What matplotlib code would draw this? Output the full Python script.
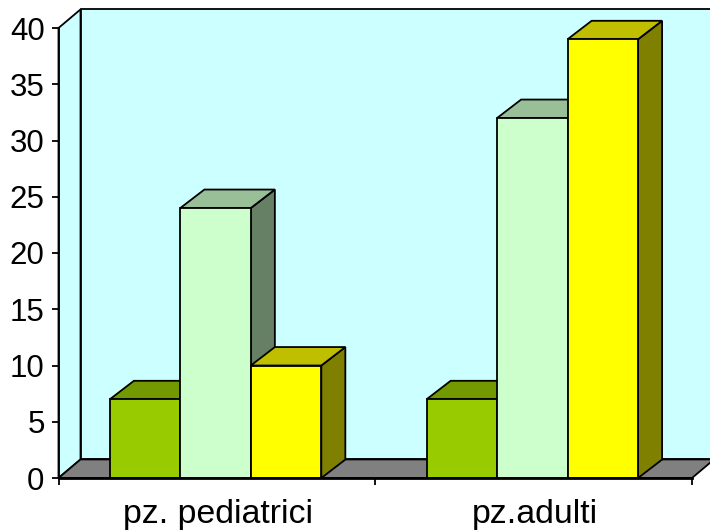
import matplotlib
matplotlib.use("Agg")
import numpy as np
import matplotlib.pyplot as plt
from matplotlib.patches import Polygon

plt.rcParams['font.family'] = ['Liberation Sans', 'DejaVu Sans']

categories = ['pz. pediatrici', 'pz.adulti']
series_a = [7, 7]
series_b = [24, 32]
series_c = [10, 39]
y_ticks = [0, 5, 10, 15, 20, 25, 30, 35, 40]

bar_width = 0.2225
wall_dx, wall_dy = 0.0695, 1.65
bar_dx, bar_dy = 0.0758, 1.64
line = 1.3

fig = plt.figure(figsize=(7.1, 5.3), dpi=100)
ax = fig.add_axes([58.5 / 710, 1 - 478 / 530, 633.5 / 710, 450 / 530])
ax.set_xlim(0, 2)
ax.set_ylim(0, 40)
ax.patch.set_visible(False)


def poly(points, color, z):
    ax.add_patch(Polygon(points, closed=True, facecolor=color, edgecolor='black',
                         linewidth=line, clip_on=False, zorder=z, joinstyle='miter'))


# walls and floor
poly([(0, 0), (wall_dx, wall_dy), (wall_dx, 40 + wall_dy), (0, 40)], '#CCFFFF', 1)
poly([(wall_dx, wall_dy), (2 + wall_dx, wall_dy), (2 + wall_dx, 40 + wall_dy), (wall_dx, 40 + wall_dy)], '#CCFFFF', 1)
poly([(0, 0), (2, 0), (2 + wall_dx, wall_dy), (wall_dx, wall_dy)], '#808080', 1.5)


def bar3d(x, h, front, top, side, z):
    r = x + bar_width
    poly([(r, 0), (r + bar_dx, bar_dy), (r + bar_dx, h + bar_dy), (r, h)], side, z)
    poly([(x, h), (r, h), (r + bar_dx, h + bar_dy), (x + bar_dx, h + bar_dy)], top, z)
    poly([(x, 0), (r, 0), (r, h), (x, h)], front, z + 0.1)


styles = [('#99CC00', '#739900', '#4D6600'),
          ('#CCFFCC', '#99BF99', '#668066'),
          ('#FFFF00', '#BFBF00', '#808000')]
centers = np.arange(len(categories)) + 0.496
for i, c in enumerate(centers):
    for j, vals in enumerate([series_a, series_b, series_c]):
        bar3d(c + (j - 1.5) * bar_width, vals[i], *styles[j], 2 + i + j * 0.2)

ax.set_yticks(y_ticks)
ax.set_xticks([0, 1, 2])
ax.set_xticklabels([])
ax.tick_params(axis='both', length=5, width=1.3, color='black')
ax.tick_params(axis='y', labelsize=22.5, pad=5)
for c, name in zip(centers, categories):
    ax.annotate(name, (c, 0), xytext=(1.5, -26.3), textcoords='offset points',
                ha='center', va='center', fontsize=24.4)

for s in ['top', 'right']:
    ax.spines[s].set_visible(False)
ax.spines['left'].set_linewidth(1.3)
ax.spines['bottom'].set_linewidth(2)
ax.spines['bottom'].set_zorder(10)

fig.savefig('out.png', dpi=100)
